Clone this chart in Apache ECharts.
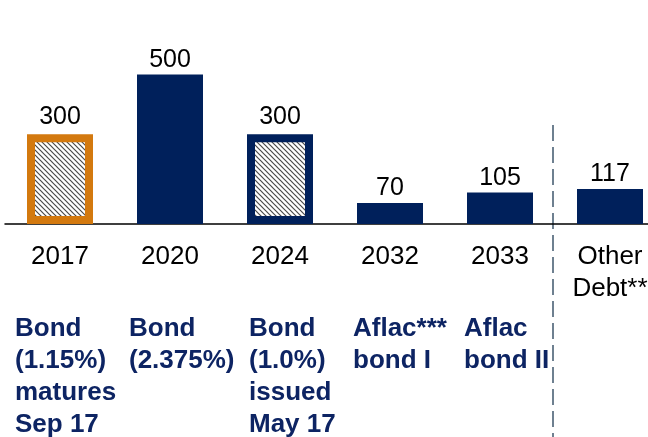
<!DOCTYPE html>
<html><head><meta charset="utf-8">
<script src="https://cdn.jsdelivr.net/npm/echarts@6/dist/echarts.min.js"></script>
<style>html,body{margin:0;padding:0;background:#fff}#c{width:648px;height:437px}</style>
</head><body><div id="c"></div>
<script>
// ---- data ----
const categories = ['2017', '2020', '2024', '2032', '2033', 'Other\nDebt**'];
const values = [300, 500, 300, 70, 105, 117];
const hatched = [true, false, true, false, false, false];
const notes = ['Bond\n(1.15%)\nmatures\nSep 17', 'Bond\n(2.375%)', 'Bond\n(1.0%)\nissued\nMay 17', 'Aflac***\nbond I', 'Aflac\nbond II'];

// ---- style ----
const NAVY = '#00205b';
const ORANGE = '#d3790f';
const borderColors = [ORANGE, null, NAVY, null, null, null];
const noteOffsets = [-45, -41, -31, -37, -36];
const FONT = 'Liberation Sans, Arial, sans-serif';

function hatchPattern() {
  const s = 5;
  const c = document.createElement('canvas');
  c.width = s; c.height = s;
  const g = c.getContext('2d');
  g.fillStyle = '#ffffff'; g.fillRect(0, 0, s, s);
  g.strokeStyle = '#4a4a4a'; g.lineWidth = 1.2;
  for (let k = -1; k <= 1; k++) {
    g.beginPath();
    g.moveTo(k * s - 1, -1);
    g.lineTo(k * s + s + 1, s + 1);
    g.stroke();
  }
  return { image: c, repeat: 'repeat' };
}
const pattern = hatchPattern();

const chart = echarts.init(document.getElementById('c'), null, { renderer: 'canvas' });

const seriesData = values.map((v, i) => {
  if (hatched[i]) {
    return {
      value: v,
      itemStyle: { color: pattern, borderColor: borderColors[i], borderWidth: 8 },
      label: { distance: 5 }
    };
  }
  return { value: v };
});

chart.setOption({
  animation: false,
  grid: { left: 5, right: -17, top: 44.6, bottom: 213, containLabel: false, outerBoundsMode: 'none' },
  xAxis: {
    type: 'category',
    data: categories,
    axisLine: { lineStyle: { color: '#000', width: 1.5 } },
    axisTick: { show: false },
    axisLabel: { color: '#000', fontSize: 26, fontFamily: FONT, lineHeight: 32, margin: 17, interval: 0 }
  },
  yAxis: { type: 'value', min: 0, max: 600, show: false, splitLine: { show: false } },
  series: [{
    type: 'bar',
    data: seriesData,
    barWidth: 66,
    itemStyle: { color: NAVY },
    label: { show: true, position: 'top', distance: 2, color: '#000', fontSize: 25, fontFamily: FONT }
  }]
});

function drawGraphics() {
  const elements = [];
  const c4 = chart.convertToPixel({ xAxisIndex: 0 }, 4);
  const c5 = chart.convertToPixel({ xAxisIndex: 0 }, 5);
  const xd = (c4 + c5) / 2 - 2;
  elements.push({
    type: 'line',
    shape: { x1: xd, y1: 125, x2: xd, y2: 437 },
    style: { stroke: '#6e8090', lineWidth: 2, lineDash: [16, 6] }
  });
  notes.forEach((t, i) => {
    const cx = chart.convertToPixel({ xAxisIndex: 0 }, i);
    elements.push({
      type: 'text',
      x: cx + noteOffsets[i],
      y: 313,
      style: {
        text: t, fill: '#0d2463', fontSize: 26, fontWeight: 'bold',
        fontFamily: FONT, lineHeight: 32, align: 'left', verticalAlign: 'top'
      }
    });
  });
  chart.setOption({ graphic: { elements } });
}
drawGraphics();
</script>
</body></html>
